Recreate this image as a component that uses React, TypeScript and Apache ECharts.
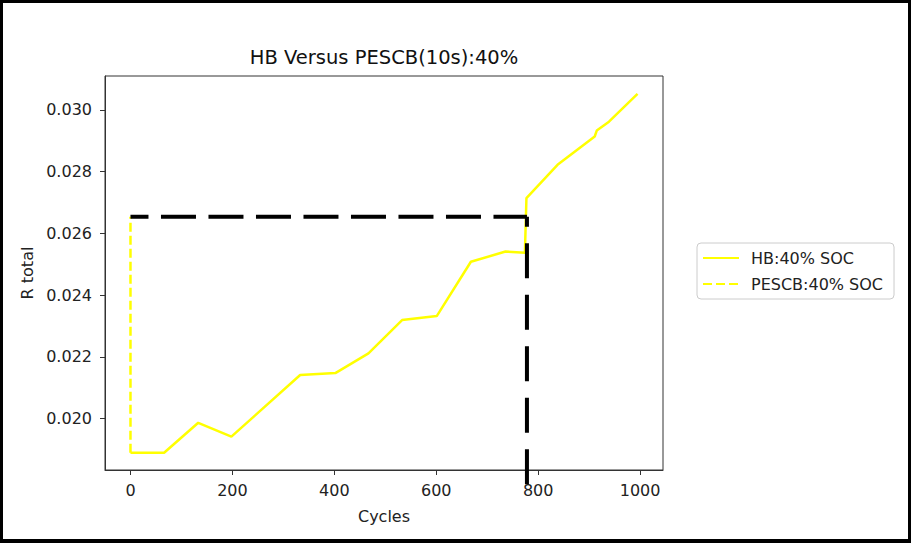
import React, { useEffect, useRef } from "react";
import * as echarts from "echarts";

const hbCycles = [0, 66, 133, 198, 333, 402, 467, 533, 601, 668, 736, 774, 777, 838, 911, 915, 939, 995];
const hbR = [0.01889, 0.01889, 0.01986, 0.01941, 0.02141, 0.02147, 0.02211, 0.02319, 0.02332, 0.02508, 0.02541, 0.02537, 0.02714, 0.02822, 0.02914, 0.02933, 0.02962, 0.03052];
const pescbCycles = [0, 0];
const pescbR = [0.01889, 0.02654];
const refHCycles = [0, 778];
const refHR = [0.02654, 0.02654];
const refVCycles = [778, 778];
const refVR = [0.02654, 0.0178];
const xTicks = [0, 200, 400, 600, 800, 1000];
const yTicks = [0.02, 0.022, 0.024, 0.026, 0.028, 0.03];

const FONT = "DejaVu Sans";

export default function App() {
  const ref = useRef<HTMLDivElement>(null);
  useEffect(() => {
    if (!ref.current) return;
    const chart = echarts.init(ref.current, null, { renderer: "svg" });
    const pairs = (xs: number[], ys: number[]) => xs.map((x, i) => [x, ys[i]]);
    const axisColor = "#333";
    chart.setOption({
      animation: false,
      backgroundColor: "#fff",
      title: {
        text: "HB Versus PESCB(10s):40%",
        left: 384,
        top: 47,
        textAlign: "center",
        padding: 0,
        textStyle: { fontFamily: FONT, fontSize: 19.5, fontWeight: "normal", color: "#111" },
      },
      legend: {
        data: ["HB:40% SOC", "PESCB:40% SOC"],
        orient: "vertical",
        left: 697,
        top: 243,
        padding: [7, 11, 7, 5],
        itemWidth: 36,
        itemHeight: 14,
        itemGap: 10,
        borderColor: "#ccc",
        borderWidth: 1,
        borderRadius: 4,
        backgroundColor: "#fff",
        itemStyle: { opacity: 0 },
        textStyle: { fontFamily: FONT, fontSize: 16, color: "#222", padding: [0, 0, 0, 7] },
      },
      grid: {
        left: 105,
        right: 248,
        top: 76,
        bottom: 73,
        show: true,
        borderColor: axisColor,
        borderWidth: 1,
        backgroundColor: "transparent",
        outerBoundsMode: "none",
      },
      xAxis: {
        type: "value",
        min: -50,
        max: 1045,
        name: "Cycles",
        nameLocation: "middle",
        nameGap: 38,
        nameTextStyle: { fontFamily: FONT, fontSize: 16, color: "#222" },
        axisLine: { show: true, onZero: false, lineStyle: { color: axisColor, width: 1 } },
        axisTick: { show: true, customValues: xTicks, length: 5, lineStyle: { color: axisColor } },
        axisLabel: {
          customValues: xTicks,
          margin: 12,
          fontFamily: FONT,
          fontSize: 16,
          color: "#222",
          formatter: (v: number) => String(Math.round(v)),
        },
        splitLine: { show: false },
      },
      yAxis: {
        type: "value",
        min: 0.01833,
        max: 0.0311,
        name: "R total",
        nameLocation: "middle",
        nameGap: 55,
        nameTextStyle: { fontFamily: FONT, fontSize: 16, color: "#222" },
        axisLine: { show: true, onZero: false, lineStyle: { color: axisColor, width: 1 } },
        axisTick: { show: true, customValues: yTicks, length: 5, lineStyle: { color: axisColor } },
        axisLabel: {
          customValues: yTicks,
          margin: 13,
          fontFamily: FONT,
          fontSize: 16,
          color: "#222",
          formatter: (v: number) => v.toFixed(3),
        },
        splitLine: { show: false },
      },
      series: [
        {
          name: "HB:40% SOC",
          type: "line",
          data: pairs(hbCycles, hbR),
          symbol: "none",
          lineStyle: { color: "#ffff00", width: 2.5 },
          itemStyle: { color: "#ffff00" },
          z: 2,
        },
        {
          name: "PESCB:40% SOC",
          type: "line",
          data: pairs(pescbCycles, pescbR),
          symbol: "none",
          lineStyle: { color: "#ffff00", width: 2.5, type: [9, 4] },
          itemStyle: { color: "#ffff00" },
          z: 2,
        },
        {
          name: "refH",
          type: "line",
          data: pairs(refHCycles, refHR),
          symbol: "none",
          clip: false,
          lineStyle: { color: "#000", width: 4, type: [35, 12.5], dashOffset: 17.3 },
          z: 3,
        },
        {
          name: "refV",
          type: "line",
          data: pairs(refVCycles, refVR),
          symbol: "none",
          clip: false,
          lineStyle: { color: "#000", width: 4, type: [35, 16.5], dashOffset: 24.9 },
          z: 3,
        },
      ],
      graphic: [
        { type: "rect", shape: { x: 0, y: 0, width: 911, height: 3 }, style: { fill: "#000" }, z: 100 },
        { type: "rect", shape: { x: 0, y: 0, width: 3, height: 543 }, style: { fill: "#000" }, z: 100 },
        { type: "rect", shape: { x: 908, y: 0, width: 3, height: 543 }, style: { fill: "#000" }, z: 100 },
        { type: "rect", shape: { x: 0, y: 539, width: 911, height: 4 }, style: { fill: "#000" }, z: 100 },
      ],
    });
    return () => chart.dispose();
  }, []);
  return (
    <div
      ref={ref}
      style={{ position: "fixed", left: 0, top: 0, width: 911, height: 543, background: "#fff" }}
    />
  );
}
